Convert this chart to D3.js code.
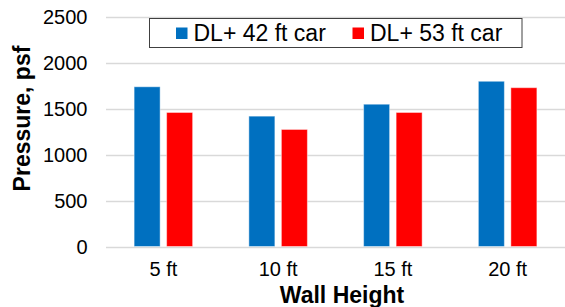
<!DOCTYPE html>
<html>
<head>
<meta charset="utf-8">
<script src="https://cdn.jsdelivr.net/npm/d3@7"></script>
<style>
  html, body { margin: 0; padding: 0; background: #fff; }
  svg { display: block; font-family: "Liberation Sans", Arial, sans-serif; }
</style>
</head>
<body>
<svg id="chart" width="565" height="307"></svg>
<script>
// data
const categories = ["5 ft", "10 ft", "15 ft", "20 ft"];
const seriesNames = ["DL+ 42 ft car", "DL+ 53 ft car"];
const car42 = [1740, 1420, 1550, 1800];
const car53 = [1460, 1275, 1460, 1730];
const yTicks = [0, 500, 1000, 1500, 2000, 2500];
const colors = ["#0070C0", "#FF0000"];

const svg = d3.select("#chart");
const plot = { left: 106, right: 565, top: 17, bottom: 246.5 };

const x0 = d3.scaleBand().domain(categories).range([plot.left, plot.right]);
const groupW = x0.bandwidth() * 0.51;
const x1 = d3.scaleBand().domain(seriesNames).range([0, groupW]).paddingInner(0.2);
const y = d3.scaleLinear().domain([0, 2500]).range([plot.bottom, plot.top]);

// gridlines
svg.append("g")
  .selectAll("line")
  .data(yTicks)
  .join("line")
  .attr("x1", plot.left)
  .attr("x2", plot.right)
  .attr("y1", d => Math.round(y(d)) + 0.5)
  .attr("y2", d => Math.round(y(d)) + 0.5)
  .attr("stroke", "#d9d9d9")
  .attr("stroke-width", 1.5);

// y tick labels
svg.append("g")
  .selectAll("text")
  .data(yTicks)
  .join("text")
  .attr("x", 87.5)
  .attr("y", d => y(d))
  .attr("dy", "0.35em")
  .attr("text-anchor", "end")
  .attr("font-size", 20)
  .attr("fill", "#000")
  .text(d => d);

// bars
const rows = categories.map((c, i) => ({ cat: c, vals: [car42[i], car53[i]] }));
const groups = svg.append("g")
  .selectAll("g")
  .data(rows)
  .join("g")
  .attr("transform", d => `translate(${x0(d.cat) + (x0.bandwidth() - groupW) / 2},0)`);

groups.selectAll("rect")
  .data(d => d.vals.map((v, i) => ({ name: seriesNames[i], value: v, i })))
  .join("rect")
  .attr("x", d => x1(d.name))
  .attr("y", d => y(d.value))
  .attr("width", x1.bandwidth())
  .attr("height", d => plot.bottom - y(d.value))
  .attr("fill", d => colors[d.i])
  .attr("stroke", "rgba(255,255,255,0.45)")
  .attr("stroke-width", 1);

// x tick labels
svg.append("g")
  .selectAll("text")
  .data(categories)
  .join("text")
  .attr("x", d => x0(d) + x0.bandwidth() / 2)
  .attr("y", 276)
  .attr("text-anchor", "middle")
  .attr("font-size", 20)
  .text(d => d);

// axis titles
svg.append("text")
  .attr("x", 342)
  .attr("y", 303)
  .attr("text-anchor", "middle")
  .attr("font-size", 23)
  .attr("font-weight", "bold")
  .text("Wall Height");

svg.append("text")
  .attr("transform", "translate(29.5,118.5) rotate(-90)")
  .attr("text-anchor", "middle")
  .attr("font-size", 23)
  .attr("font-weight", "bold")
  .text("Pressure, psf");

// legend
const legend = svg.append("g");
legend.append("rect")
  .attr("x", 149.5)
  .attr("y", 18.5)
  .attr("width", 372.5)
  .attr("height", 29)
  .attr("fill", "#fff")
  .attr("stroke", "#404040")
  .attr("stroke-width", 1);

const legendX = [176, 352.5];
const items = legend.selectAll("g")
  .data(seriesNames)
  .join("g")
  .attr("transform", (d, i) => `translate(${legendX[i]},0)`);

items.append("rect")
  .attr("x", 0)
  .attr("y", 27.5)
  .attr("width", 11.5)
  .attr("height", 11.5)
  .attr("fill", (d, i) => colors[i]);

items.append("text")
  .attr("x", 17.5)
  .attr("y", 41)
  .attr("font-size", 23)
  .text(d => d);
</script>
</body>
</html>
